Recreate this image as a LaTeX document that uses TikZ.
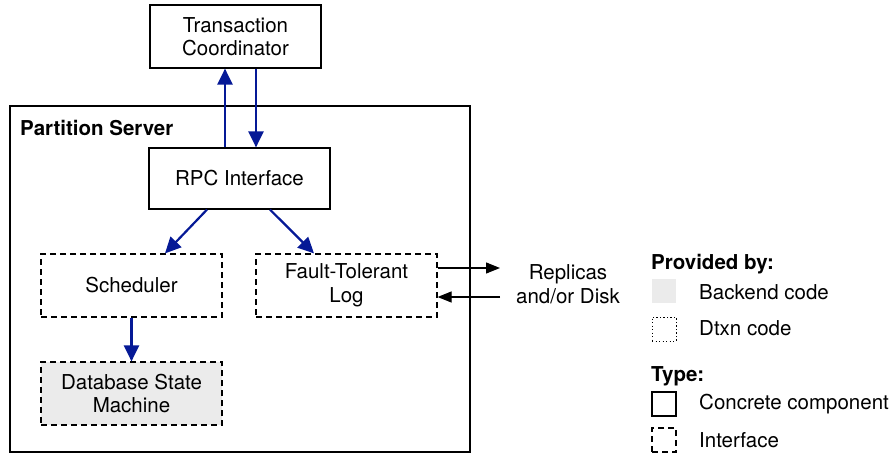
\documentclass[tikz,border=0pt]{standalone}
\usepackage{fontspec}
\setmainfont{TeX Gyre Heros}
\usetikzlibrary{arrows.meta}
\definecolor{arrblue}{RGB}{5,25,150}
\definecolor{backgray}{RGB}{235,235,235}
\begin{document}
\begin{tikzpicture}[x=1pt,y=-1pt,
  font=\fontsize{20.5}{23.5}\selectfont,
  concrete/.style={draw=black,line width=1.2pt,align=center,inner sep=0pt},
  iface/.style={draw=black,line width=1.2pt,dash pattern=on 6pt off 4pt,align=center,inner sep=0pt},
  barrow/.style={draw=arrblue,line width=2.2pt,-{Triangle[length=16pt,width=15pt]}},
  karrow/.style={draw=black,line width=1.2pt,-{Triangle[length=14pt,width=11pt]}},
  lbl/.style={anchor=west,inner sep=0pt},
  hdr/.style={anchor=west,inner sep=0pt,font=\fontsize{20.5}{23.5}\selectfont\bfseries},
  legbox/.style={minimum width=24pt,minimum height=24pt,inner sep=0pt}]
\useasboundingbox (0,0) rectangle (893,454);

\node[concrete,minimum width=171pt,minimum height=63pt] (tc) at (235.5,36.5) {Transaction\\Coordinator};
\draw[line width=1.2pt] (10,106) rectangle (470,452);
\node[hdr] (ps) at (20,128) {Partition Server};
\node[concrete,minimum width=181pt,minimum height=61pt] (rpc) at (239.5,178.5) {RPC Interface};
\node[iface,minimum width=181pt,minimum height=63pt] (sch) at (131.5,285.5) {Scheduler};
\node[iface,minimum width=181pt,minimum height=63pt] (ftl) at (346.5,285.5) {Fault-Tolerant\\Log};
\node[iface,fill=backgray,minimum width=181pt,minimum height=63pt] (db) at (131.5,393.5) {Database State\\Machine};
\node[align=center,inner sep=0pt] (rep) at (568,284) {Replicas\\and/or Disk};

\coordinate (xu) at (225,0);
\coordinate (xd) at (256,0);
\draw[barrow] (rpc.north -| xu) -- (tc.south -| xu);
\draw[barrow] (tc.south -| xd) -- (rpc.north -| xd);
\coordinate (a1) at (207,0);
\coordinate (a2) at (165,0);
\coordinate (b1) at (270,0);
\coordinate (b2) at (314,0);
\draw[barrow] (rpc.south -| a1) -- (sch.north -| a2);
\draw[barrow] (rpc.south -| b1) -- (ftl.north -| b2);
\draw[barrow] (sch.south) -- (db.north);

\coordinate (r1) at (500,268);
\coordinate (r2) at (500,297);
\draw[karrow] (ftl.east |- r1) -- (r1);
\draw[karrow] (r2) -- (ftl.east |- r2);

\node[hdr] (h1) at (651,264) {Provided by:};
\node[legbox,fill=backgray] (l1) at (664,291) {};
\node[lbl] (t1) at (699,292) {Backend code};
\node[legbox,draw=black,line width=0.8pt,dash pattern=on 1.2pt off 2.3pt] (l2) at (664,329) {};
\node[lbl] (t2) at (699,328) {Dtxn code};
\node[hdr] (h2) at (651,376) {Type:};
\node[legbox,draw=black,line width=1.2pt] (l3) at (664,404) {};
\node[lbl] (t3) at (699,404) {Concrete component};
\node[legbox,draw=black,line width=1.2pt,dash pattern=on 6pt off 4pt] (l4) at (664,440) {};
\node[lbl] (t4) at (699,440) {Interface};
\end{tikzpicture}
\end{document}
